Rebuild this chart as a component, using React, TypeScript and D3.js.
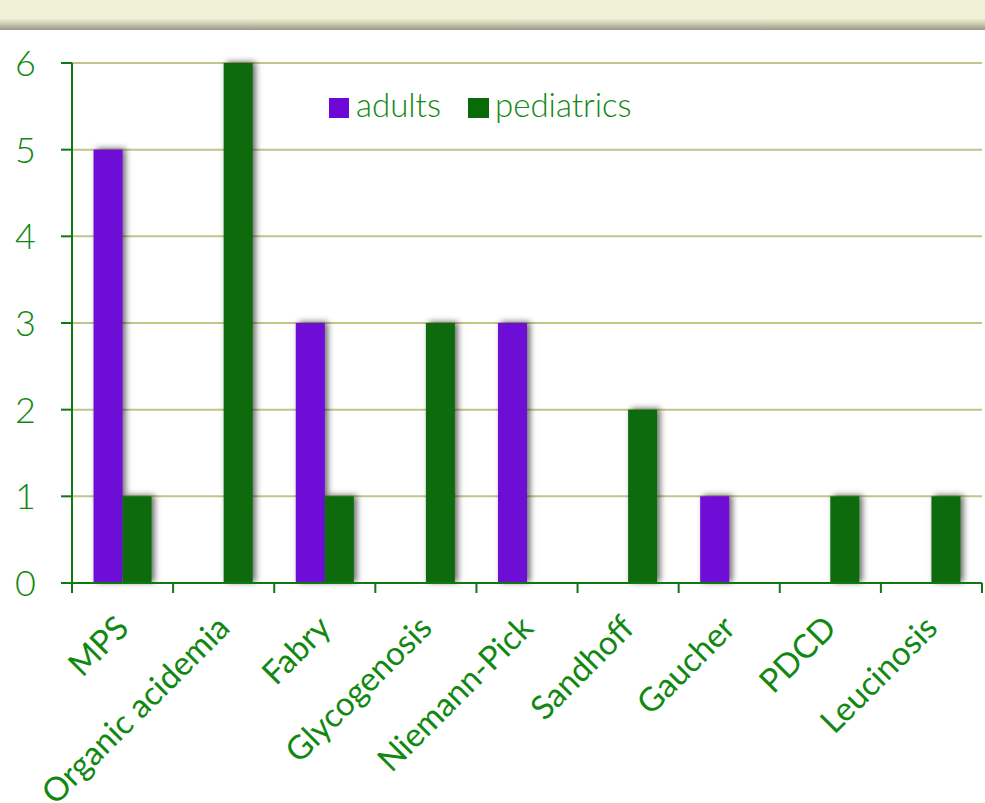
import React from "react";
import * as d3 from "d3";

const categories = ["MPS", "Organic acidemia", "Fabry", "Glycogenosis", "Niemann-Pick", "Sandhoff", "Gaucher", "PDCD", "Leucinosis"];
const adults = [5, 0, 3, 0, 3, 0, 1, 0, 0];
const pediatrics = [1, 6, 1, 3, 0, 2, 0, 1, 1];
const seriesNames = ["adults", "pediatrics"];
const yTicks = [0, 1, 2, 3, 4, 5, 6];

const W = 985, H = 803;
const margin = { left: 72, right: 3, top: 63, bottom: 220 };
const FONT = "Lato, 'Open Sans', sans-serif";
const TEXT = "#118811";
const AXIS = "#117711";
const GRID = "#c4c38c";
const COLORS = ["#6e08d6", "#086b08"];

export default function App() {
  const x = d3.scaleBand<string>().domain(categories).range([margin.left, W - margin.right]).paddingInner(0).paddingOuter(0);
  const y = d3.scaleLinear().domain([0, 6]).range([H - margin.bottom, margin.top]);
  const bw = 29;
  const series = [adults, pediatrics];
  return (
    <svg width={W} height={H} style={{ position: "absolute", left: 0, top: 0, background: "#fff" }}>
      <defs>
        <filter id="sh" x="-50%" y="-20%" width="200%" height="140%">
          <feDropShadow dx="3" dy="-1" stdDeviation="3" floodColor="#000" floodOpacity="0.6" />
        </filter>
        <linearGradient id="ban" x1="0" y1="0" x2="0" y2="1">
          <stop offset="0" stopColor="#f0f0d6" />
          <stop offset="0.62" stopColor="#f0f0d6" />
          <stop offset="0.8" stopColor="#c8c8b0" />
          <stop offset="1" stopColor="#9a9a88" />
        </linearGradient>
      </defs>
      <rect x={0} y={0} width={W} height={30} fill="url(#ban)" />
      {yTicks.map(t => (
        <g key={t}>
          {t > 0 && <line x1={margin.left} x2={W - margin.right} y1={y(t)} y2={y(t)} stroke={GRID} strokeWidth={2} />}
          <line x1={margin.left - 11} x2={margin.left} y1={y(t)} y2={y(t)} stroke={AXIS} strokeWidth={2} />
          <text x={36} y={y(t)} dy="0.36em" textAnchor="end" fontFamily={FONT} fontSize={36} fontWeight={300} fill={TEXT}>{t}</text>
        </g>
      ))}
      {categories.map((c, i) => {
        const cx = x(c)! + x.bandwidth() / 2;
        return (
          <g key={c}>
            {series.map((s, j) => s[i] > 0 && (
              <rect key={j} x={cx - bw + j * bw} y={y(s[i])} width={bw} height={y(0) - y(s[i])} fill={COLORS[j]} filter="url(#sh)" />
            ))}
          </g>
        );
      })}
      <line x1={margin.left} x2={margin.left} y1={y(6)} y2={y(0) + 10} stroke={AXIS} strokeWidth={2} />
      <line x1={margin.left} x2={W - margin.right} y1={y(0)} y2={y(0)} stroke={AXIS} strokeWidth={2} />
      {d3.range(categories.length + 1).map(i => {
        const tx = margin.left + i * x.bandwidth();
        return <line key={i} x1={tx} x2={tx} y1={y(0)} y2={y(0) + 10} stroke={AXIS} strokeWidth={2} />;
      })}
      {categories.map(c => {
        const cx = x(c)! + x.bandwidth() / 2;
        return (
          <text key={c} transform={`translate(${cx + 8},${y(0) + 47}) rotate(-45)`} textAnchor="end" fontFamily={FONT} fontSize={33} fontWeight={400} fill={TEXT}>{c}</text>
        );
      })}
      <g>
        <rect x={329} y={98} width={20} height={20} fill={COLORS[0]} />
        <text x={356} y={117} fontFamily={FONT} fontSize={33} fontWeight={300} fill={TEXT}>{seriesNames[0]}</text>
        <rect x={468} y={98} width={21} height={20} fill={COLORS[1]} />
        <text x={495} y={117} fontFamily={FONT} fontSize={33} fontWeight={300} fill={TEXT}>{seriesNames[1]}</text>
      </g>
    </svg>
  );
}
